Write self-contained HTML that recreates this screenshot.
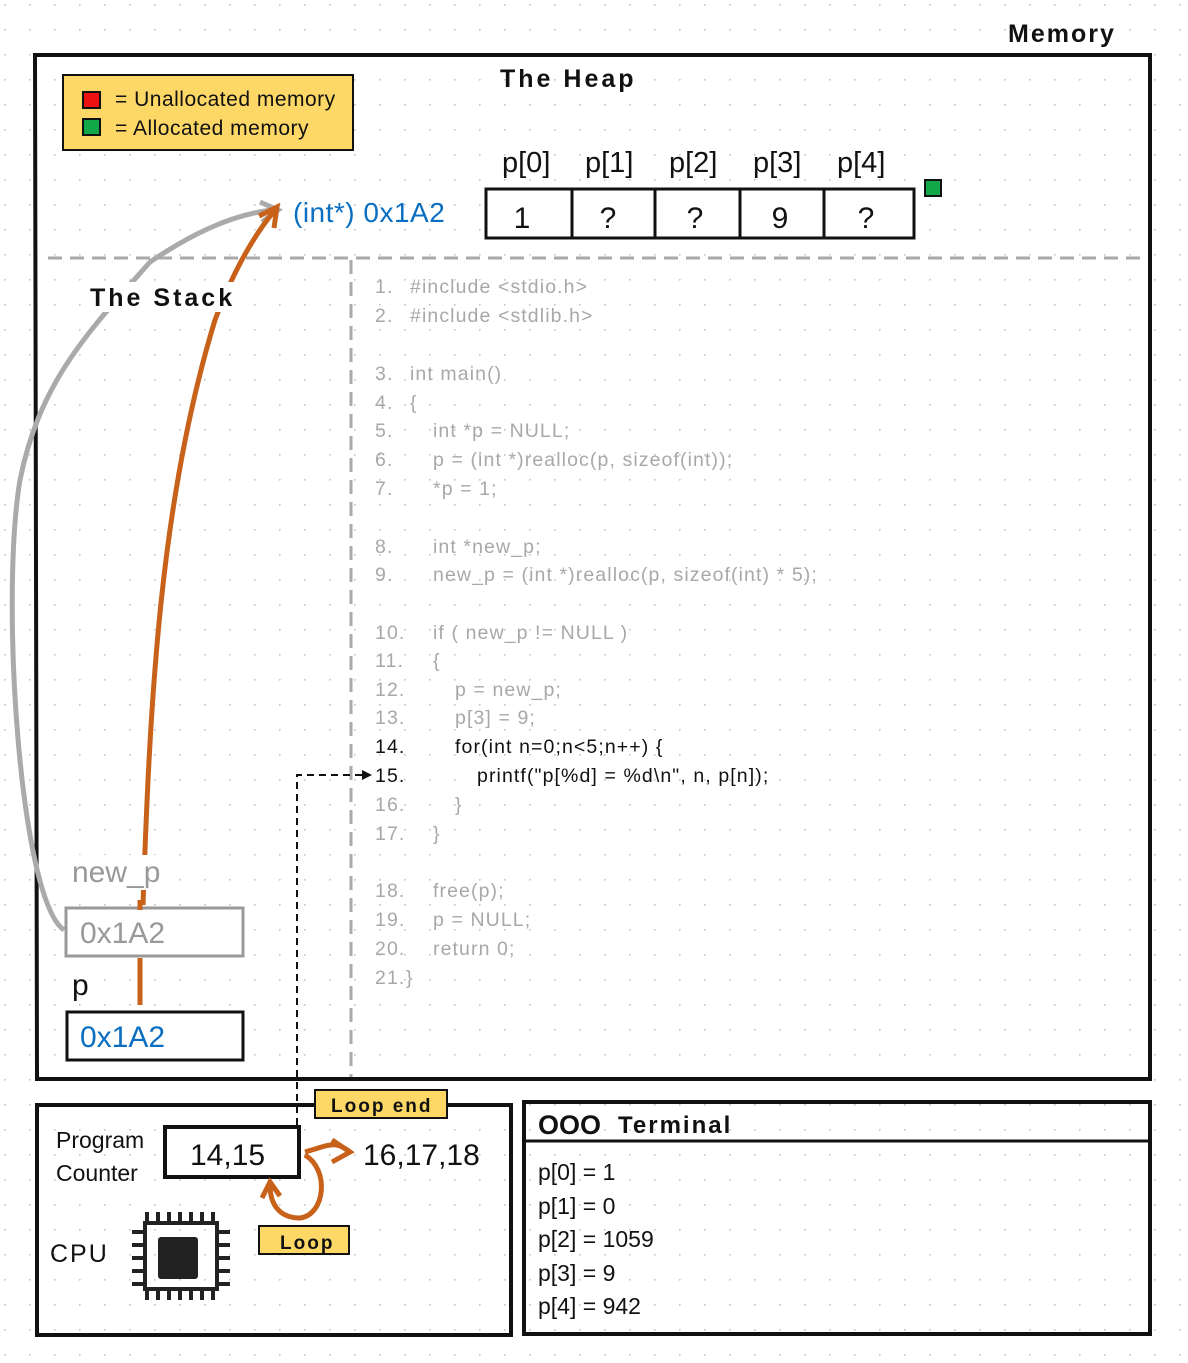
<!DOCTYPE html>
<html><head><meta charset="utf-8"><style>
html,body{margin:0;padding:0;background:#fff;}
svg text{font-family:"Liberation Sans",sans-serif;}
</style></head><body>
<svg width="1188" height="1358" viewBox="0 0 1188 1358" xmlns="http://www.w3.org/2000/svg">
<defs>
<pattern id="dots" width="25" height="25" patternUnits="userSpaceOnUse" x="4" y="4">
<circle cx="0.8" cy="0.8" r="1" fill="#c8c8c8"/>
</pattern>
</defs>
<rect width="1188" height="1358" fill="url(#dots)"/>

<text x="1008" y="42" font-size="25" font-weight="bold" letter-spacing="2" fill="#111">Memory</text>

<path d="M35 55 L1150 55 L1150 1079 L37 1079 Z" fill="none" stroke="#111" stroke-width="4"/>

<rect x="63" y="75" width="290" height="75" fill="#fdd866" stroke="#111" stroke-width="2"/>
<rect x="83" y="92" width="17" height="16" fill="#ee1111" stroke="#111" stroke-width="2"/>
<rect x="83" y="119" width="17" height="16" fill="#11a84a" stroke="#111" stroke-width="2"/>
<text x="115" y="106" font-size="21" fill="#111" letter-spacing="0.5">= Unallocated memory</text>
<text x="115" y="135" font-size="21" fill="#111" letter-spacing="0.5">= Allocated memory</text>

<text x="500" y="87" font-size="25" font-weight="bold" letter-spacing="3" fill="#111">The Heap</text>

<g font-size="29" fill="#111">
<text x="502" y="172">p[0]</text><text x="585" y="172">p[1]</text><text x="669" y="172">p[2]</text><text x="753" y="172">p[3]</text><text x="837" y="172">p[4]</text>
</g>
<rect x="486" y="189" width="428" height="49" fill="#fff" stroke="#111" stroke-width="3"/>
<line x1="572" y1="189" x2="572" y2="238" stroke="#111" stroke-width="3"/>
<line x1="655" y1="189" x2="655" y2="238" stroke="#111" stroke-width="3"/>
<line x1="740" y1="189" x2="740" y2="238" stroke="#111" stroke-width="3"/>
<line x1="824" y1="189" x2="824" y2="238" stroke="#111" stroke-width="3"/>
<g font-size="30" fill="#111" text-anchor="middle">
<text x="522" y="228">1</text><text x="608" y="228">?</text><text x="695" y="228">?</text><text x="780" y="228">9</text><text x="866" y="228">?</text>
</g>
<rect x="925" y="180" width="16" height="16" fill="#11a84a" stroke="#111" stroke-width="2"/>

<text x="293" y="222" font-size="28" fill="#0a6fc2" letter-spacing="0.5">(int*) 0x1A2</text>

<line x1="48" y1="258" x2="1143" y2="258" stroke="#aaa" stroke-width="3" stroke-dasharray="14,8"/>
<line x1="351" y1="260" x2="351" y2="1077" stroke="#aaa" stroke-width="3" stroke-dasharray="14,8"/>

<!-- arrows -->
<path d="M64 930 C20 900 0 600 20 480 C40 380 90 330 150 262 C190 235 230 215 272 210" fill="none" stroke="#aaa" stroke-width="5"/>
<path d="M260 202 L278 210 L262 222" fill="none" stroke="#aaa" stroke-width="5"/>
<path d="M140 1005 L140 958" fill="none" stroke="#c8611a" stroke-width="5"/>
<path d="M143 905 C150 700 160 500 215 320 C230 280 250 240 275 210" fill="none" stroke="#c8611a" stroke-width="5"/>
<path d="M259 216 L277 207 L274 228" fill="none" stroke="#c8611a" stroke-width="5"/>

<rect x="88" y="282" width="150" height="30" fill="#fff"/>
<text x="90" y="306" font-size="25" font-weight="bold" letter-spacing="3" fill="#111">The Stack</text>

<rect x="70" y="855" width="105" height="35" fill="#fff"/>
<text x="72" y="882" font-size="30" fill="#999">new_p</text>
<rect x="66" y="908" width="177" height="48" fill="#fff" stroke="#999" stroke-width="3"/>
<text x="80" y="943" font-size="30" fill="#999">0x1A2</text>
<line x1="140" y1="900" x2="140" y2="910" stroke="#c8611a" stroke-width="5"/>
<text x="72" y="995" font-size="30" fill="#111">p</text>
<rect x="67" y="1012" width="176" height="48" fill="#fff" stroke="#111" stroke-width="3"/>
<text x="80" y="1047" font-size="30" fill="#0a6fc2">0x1A2</text>

<g font-size="19.5" fill="#a8a8a8" letter-spacing="1.1">
<text x="375" y="293">1.</text><text x="410" y="293">#include &lt;stdio.h&gt;</text>
<text x="375" y="322">2.</text><text x="410" y="322">#include &lt;stdlib.h&gt;</text>
<text x="375" y="380">3.</text><text x="410" y="380">int main()</text>
<text x="375" y="409">4.</text><text x="410" y="409">{</text>
<text x="375" y="437">5.</text><text x="433" y="437">int *p = NULL;</text>
<text x="375" y="466">6.</text><text x="433" y="466">p = (int *)realloc(p, sizeof(int));</text>
<text x="375" y="495">7.</text><text x="433" y="495">*p = 1;</text>
<text x="375" y="553">8.</text><text x="433" y="553">int *new_p;</text>
<text x="375" y="581">9.</text><text x="433" y="581">new_p = (int *)realloc(p, sizeof(int) * 5);</text>
<text x="375" y="639">10.</text><text x="433" y="639">if ( new_p != NULL )</text>
<text x="375" y="667">11.</text><text x="433" y="667">{</text>
<text x="375" y="696">12.</text><text x="455" y="696">p = new_p;</text>
<text x="375" y="724">13.</text><text x="455" y="724">p[3] = 9;</text>
<text x="375" y="811">16.</text><text x="455" y="811">}</text>
<text x="375" y="840">17.</text><text x="433" y="840">}</text>
<text x="375" y="897">18.</text><text x="433" y="897">free(p);</text>
<text x="375" y="926">19.</text><text x="433" y="926">p = NULL;</text>
<text x="375" y="955">20.</text><text x="433" y="955">return 0;</text>
<text x="375" y="984">21.</text><text x="406" y="984">}</text>
</g>
<g font-size="19.5" fill="#111" letter-spacing="1.1">
<text x="375" y="753">14.</text><text x="455" y="753">for(int n=0;n&lt;5;n++) {</text>
<text x="375" y="782">15.</text><text x="477" y="782">printf("p[%d] = %d\n", n, p[n]);</text>
</g>

<path d="M297 1125 L297 775 L364 775" fill="none" stroke="#111" stroke-width="2" stroke-dasharray="7,5"/>
<path d="M362 770 L372 775 L362 780 Z" fill="#111"/>

<rect x="37" y="1105" width="474" height="230" fill="none" stroke="#111" stroke-width="4"/>
<rect x="315" y="1090" width="132" height="28" fill="#fdd866" stroke="#111" stroke-width="2"/>
<text x="331" y="1112" font-size="19" font-weight="bold" letter-spacing="2" fill="#111">Loop end</text>
<text x="56" y="1148" font-size="23" fill="#111">Program</text>
<text x="56" y="1181" font-size="23" fill="#111">Counter</text>
<rect x="165" y="1127" width="134" height="50" fill="#fff" stroke="#111" stroke-width="4"/>
<text x="190" y="1165" font-size="30" fill="#111">14,15</text>
<text x="363" y="1165" font-size="30" fill="#111">16,17,18</text>
<path d="M305 1152 C330 1145 335 1140 350 1152" fill="none" stroke="#c8611a" stroke-width="5"/>
<path d="M332 1140 L350 1152 L332 1162" fill="none" stroke="#c8611a" stroke-width="5"/>
<path d="M305 1155 C330 1170 325 1215 300 1218 C280 1218 270 1205 270 1185" fill="none" stroke="#c8611a" stroke-width="5"/>
<path d="M262 1198 L270 1182 L280 1196" fill="none" stroke="#c8611a" stroke-width="5"/>
<rect x="259" y="1226" width="90" height="28" fill="#fdd866" stroke="#111" stroke-width="2"/>
<text x="280" y="1249" font-size="19" font-weight="bold" letter-spacing="2" fill="#111">Loop</text>
<text x="50" y="1262" font-size="25" letter-spacing="2" fill="#111">CPU</text>
<g stroke="#222" stroke-width="4" fill="none">
<rect x="145" y="1223" width="72" height="66"/>
<path d="M147 1212v11M158 1212v11M169 1212v11M180 1212v11M191 1212v11M202 1212v11M213 1212v11"/>
<path d="M147 1289v11M158 1289v11M169 1289v11M180 1289v11M191 1289v11M202 1289v11M213 1289v11"/>
<path d="M132 1232h13M132 1245h13M132 1258h13M132 1271h13M132 1284h13"/>
<path d="M217 1232h13M217 1245h13M217 1258h13M217 1271h13M217 1284h13"/>
</g>
<rect x="158" y="1237" width="40" height="42" rx="3" fill="#222"/>

<rect x="524" y="1102" width="626" height="232" fill="none" stroke="#111" stroke-width="4"/>
<line x1="524" y1="1141" x2="1150" y2="1141" stroke="#111" stroke-width="3"/>
<text x="538" y="1134" font-size="27" font-weight="bold" fill="#111">OOO</text>
<text x="618" y="1133" font-size="24" font-weight="bold" letter-spacing="2" fill="#111">Terminal</text>
<g font-size="23" fill="#111">
<text x="538" y="1180">p[0] = 1</text>
<text x="538" y="1214">p[1] = 0</text>
<text x="538" y="1247">p[2] = 1059</text>
<text x="538" y="1281">p[3] = 9</text>
<text x="538" y="1314">p[4] = 942</text>
</g>
</svg>
</body></html>
